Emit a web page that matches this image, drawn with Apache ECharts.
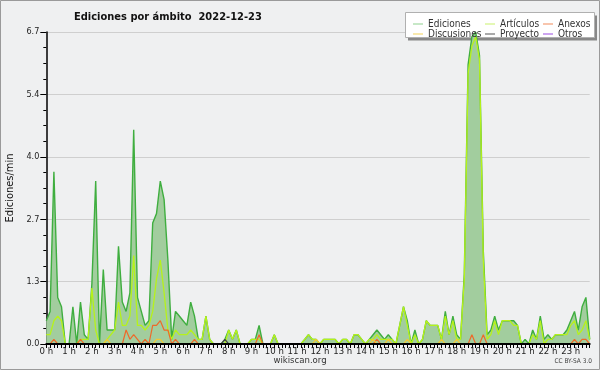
<!DOCTYPE html>
<html>
<head>
<meta charset="utf-8">
<script src="https://cdn.jsdelivr.net/npm/echarts@6/dist/echarts.min.js"></script>
<style>
html,body{margin:0;padding:0;background:#eff0f1}
#chart{width:600px;height:370px}
</style>
</head>
<body>
<div id="chart"></div>
<script>
// etiquetas de horas (una cada 6 puntos de 10 min)
var horas = ['0 h','1 h','2 h','3 h','4 h','5 h','6 h','7 h','8 h','9 h','10 h','11 h',
             '12 h','13 h','14 h','15 h','16 h','17 h','18 h','19 h','20 h','21 h','22 h','23 h'];
var yMax = 6.7;
var yPaso = 1.34;

// ediciones/min cada 10 minutos
var ediciones = [
  0.5,0.7,3.7,1.0,0.8,0,0,0.8,0,0.9,0.2,0.1,
  1.3,3.5,0,1.6,0.3,0.3,0.3,2.1,0.9,0.7,1.1,4.6,
  1.0,0.7,0.4,0.5,2.6,2.8,3.5,3.1,1.8,0.1,0.7,0.6,
  0.5,0.4,0.9,0.6,0.1,0.1,0.6,0.1,0,0,0,0.1,
  0.3,0.1,0.3,0,0,0,0.1,0.1,0.4,0,0,0,
  0.2,0,0,0,0,0,0,0,0.1,0.2,0.1,0.1,
  0,0.1,0.1,0.1,0.1,0,0.1,0.1,0,0.2,0.2,0.1,
  0,0.1,0.2,0.3,0.2,0.1,0.2,0.1,0,0.4,0.8,0.5,
  0,0.3,0,0.1,0.5,0.4,0.4,0.4,0.1,0.7,0.2,0.6,
  0.2,0.1,1.5,6.0,6.6,6.7,6.2,2.0,0.2,0.3,0.6,0.3,
  0.5,0.5,0.5,0.5,0.4,0,0.1,0,0.3,0.1,0.6,0.1,
  0.2,0.1,0.2,0.2,0.2,0.3,0.5,0.7,0.3,0.8,1.0,0.1
];
var articulos = [
  0.2,0.2,0.5,0.6,0.5,0,0,0,0,0.1,0.1,0.1,
  1.2,0.3,0,0,0.1,0.2,0.3,0.9,0.4,0.4,0.6,1.9,
  0.4,0.4,0.3,0.4,0.7,1.4,1.8,1.1,0.3,0.1,0.3,0.2,
  0.2,0.2,0.3,0.2,0.1,0.1,0.6,0.1,0,0,0,0,
  0.3,0.1,0.3,0,0,0,0.1,0.1,0.1,0,0,0,
  0.2,0,0,0,0,0,0,0,0.1,0.2,0.1,0.1,
  0,0.1,0.1,0.1,0.1,0,0.1,0.1,0,0.2,0.2,0.1,
  0,0.1,0.1,0.2,0.1,0.1,0.1,0.1,0,0.4,0.8,0.4,
  0,0.2,0,0.1,0.5,0.4,0.4,0.4,0.1,0.6,0.2,0.5,
  0.1,0.1,1.4,5.8,6.4,6.6,6.1,1.8,0.1,0.2,0.5,0.2,
  0.5,0.5,0.5,0.4,0.4,0,0,0,0.2,0.1,0.5,0,
  0.1,0.1,0.2,0.2,0.2,0.2,0.4,0.5,0.2,0.3,0.5,0.1
];
var anexos = [
  0,0,0.1,0,0,0,0,0,0,0.1,0,0,
  0,0,0,0,0,0,0,0,0,0.3,0.1,0.2,
  0.1,0,0.1,0,0.4,0.4,0.5,0.3,0.3,0,0.1,0,
  0,0,0,0.1,0,0,0,0,0,0,0,0,
  0,0,0,0,0,0,0,0,0.2,0,0,0,
  0,0,0,0,0,0,0,0,0,0,0,0,
  0,0,0,0,0,0,0,0,0,0,0,0,
  0,0,0,0.1,0,0,0,0,0,0,0,0,
  0,0,0,0,0,0,0,0,0,0,0,0,
  0,0,0,0,0.2,0,0,0.2,0,0,0,0,
  0,0,0,0,0,0,0,0,0,0,0,0,
  0,0,0,0,0,0,0,0.1,0,0.1,0.1,0
];
var discusiones = [
  0,0,0,0,0,0,0,0,0,0,0,0,
  0,0,0,0,0.1,0,0,0,0,0,0,0,
  0,0,0,0,0,0.1,0.1,0,0,0,0,0,
  0,0,0,0,0,0,0,0,0,0,0,0,
  0,0,0,0,0,0,0,0,0,0,0,0,
  0,0,0,0,0,0,0,0,0,0,0,0.1,
  0,0,0,0,0,0,0,0,0,0,0,0,
  0,0,0.1,0,0,0,0.1,0,0,0,0,0.1,
  0,0,0,0,0,0,0,0,0.1,0,0,0,
  0.1,0,0,0,0,0,0,0,0,0,0,0,
  0,0,0,0,0,0,0,0,0,0,0,0,
  0,0,0,0,0,0,0,0,0,0,0,0
];
var proyecto = [
  0,0,0,0,0,0,0,0,0,0,0,0,
  0,0,0,0,0,0,0,0,0,0,0,0,
  0,0,0,0,0,0,0,0,0,0,0,0,
  0,0,0,0,0,0,0,0,0,0,0,0.1,
  0,0,0,0,0,0,0,0,0,0,0,0,
  0,0,0,0,0,0,0,0,0,0,0,0,
  0,0,0,0,0,0,0,0,0,0,0,0,
  0,0,0,0,0,0,0,0,0,0,0,0,
  0,0,0,0,0,0,0,0,0,0,0,0,
  0,0,0,0,0,0,0,0,0,0,0,0,
  0,0,0,0,0,0,0,0,0,0,0,0,
  0,0,0,0,0,0,0,0,0,0,0,0
];
var otros = [
  0,0,0,0,0,0,0,0,0,0,0,0,
  0,0,0,0,0,0,0,0,0,0,0,0,
  0,0,0,0,0,0,0,0,0,0,0,0,
  0,0,0,0,0,0,0,0,0,0,0,0,
  0,0,0,0,0,0,0,0,0,0,0,0,
  0,0,0,0,0,0,0,0,0,0,0,0,
  0,0,0,0,0,0,0,0,0,0,0,0,
  0,0,0,0,0,0,0,0,0,0,0,0,
  0,0,0,0,0,0,0,0,0,0,0,0,
  0,0,0,0,0,0,0,0,0,0,0,0,
  0,0,0,0,0,0,0,0,0,0,0,0,
  0,0,0,0,0,0,0,0,0,0,0,0
];

var categorias = [];
for (var h = 0; h < 24; h++) {
  for (var m = 0; m < 60; m += 10) {
    categorias.push(h + ':' + (m < 10 ? '0' + m : m));
  }
}

var fuente = '"DejaVu Sans Condensed", "DejaVu Sans"';
var myChart = echarts.init(document.getElementById('chart'));

function linea(nombre, datos, color, ancho) {
  return {
    name: nombre, type: 'line', data: datos,
    showSymbol: false, symbol: 'none',
    itemStyle: {color: color},
    lineStyle: {color: color, width: ancho}
  };
}
function leyenda(left, nombres, colores) {
  return {
    orient: 'vertical', left: left, top: 14,
    icon: 'rect', itemWidth: 10, itemHeight: 1, itemGap: 0,
    textStyle: {fontFamily: fuente, fontSize: 10, color: '#333', lineHeight: 10},
    data: nombres.map(function (n, i) { return {name: n, itemStyle: {color: colores[i]}}; })
  };
}

var option = {
  animation: false,
  backgroundColor: '#eff0f1',
  title: {
    text: 'Ediciones por ámbito  2022-12-23',
    left: 69, top: 7,
    textStyle: {fontFamily: fuente, fontSize: 11, fontWeight: 'bold', color: '#111'}
  },
  grid: {left: 46.3, right: 10.3, top: 32, bottom: 26, outerBoundsMode: 'none'},
  legend: [
    leyenda(408, ['Ediciones', 'Discusiones'], ['#8fd18f', '#f3d25a']),
    leyenda(480, ['Artículos', 'Proyecto'], ['#c9f06a', '#555555']),
    leyenda(538, ['Anexos', 'Otros'], ['#f08a5a', '#9a4be0'])
  ],
  xAxis: {
    type: 'category', data: categorias, boundaryGap: false, z: 5,
    axisLine: {lineStyle: {color: '#000', width: 2}},
    axisTick: {interval: 0, length: 4, lineStyle: {color: '#000', width: 1}},
    axisLabel: {
      interval: function (i) { return i % 6 === 0; },
      formatter: function (v, i) { return horas[i / 6]; },
      fontFamily: fuente, fontSize: 9.5, color: '#222', margin: 3
    },
    splitLine: {show: false}
  },
  yAxis: {
    type: 'value', min: 0, max: yMax, interval: yPaso,
    name: 'Ediciones/min', nameLocation: 'middle', nameGap: 31, nameRotate: 90,
    nameTextStyle: {fontFamily: fuente, fontSize: 11, color: '#111'},
    axisLine: {show: true, lineStyle: {color: '#000', width: 1.5}},
    axisTick: {show: true, length: 6, lineStyle: {color: '#000'}},
    minorTick: {show: true, splitNumber: 4, length: 3, lineStyle: {color: '#000'}},
    axisLabel: {
      formatter: function (v) { return v.toFixed(1); },
      fontFamily: fuente, fontSize: 9, color: '#222', margin: 7
    },
    splitLine: {lineStyle: {color: '#cfcfcf', width: 1}}
  },
  series: [
    {
      name: 'Ediciones', type: 'line', data: ediciones,
      showSymbol: false, symbol: 'none',
      itemStyle: {color: '#8fd18f'},
      lineStyle: {color: '#3fae3f', width: 1.4},
      areaStyle: {color: '#a2cd9e', opacity: 1}
    },
    linea('Artículos', articulos, '#b6f21a', 1.3),
    linea('Anexos', anexos, '#ee6a2a', 1.2),
    linea('Discusiones', discusiones, '#f0c838', 1.2),
    linea('Proyecto', proyecto, '#444444', 1.2),
    linea('Otros', otros, '#9a4be0', 1.2)
  ],
  graphic: [
    {type: 'rect', shape: {x: 0.5, y: 0.5, width: 599, height: 369},
     style: {fill: 'none', stroke: '#9a9a9a', lineWidth: 1}, z: 100},
    {type: 'rect', shape: {x: 408, y: 15.5, width: 189, height: 25},
     style: {fill: '#888888'}, z: 1},
    {type: 'rect', shape: {x: 405.5, y: 12.5, width: 189, height: 25},
     style: {fill: '#ffffff', stroke: '#b0b0b0', lineWidth: 1}, z: 2},
    {type: 'text', left: 'center', top: 356,
     style: {text: 'wikiscan.org', font: '9.5px "DejaVu Sans Condensed"', fill: '#333'}},
    {type: 'text', right: 8, top: 358,
     style: {text: 'CC BY-SA 3.0', font: '6.5px "DejaVu Sans Condensed"', fill: '#444'}}
  ]
};
myChart.setOption(option);
window.addEventListener('resize', function () { myChart.resize(); });
</script>
</body>
</html>
